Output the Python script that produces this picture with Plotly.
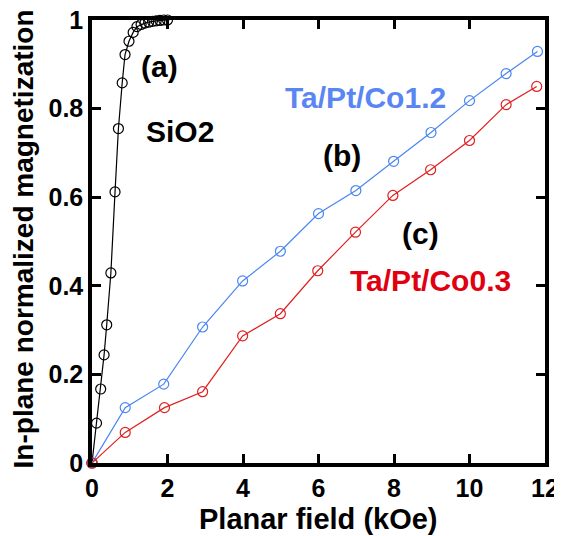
import plotly.graph_objects as go

sio2_x = [0, 0.12, 0.23, 0.32, 0.39, 0.50, 0.61, 0.70, 0.80, 0.875, 0.98, 1.09, 1.19,
          1.3, 1.4, 1.5, 1.6, 1.7, 1.8, 1.9, 2.0]
sio2_y = [0, 0.09, 0.167, 0.244, 0.312, 0.429, 0.612, 0.755, 0.858, 0.922, 0.952, 0.972, 0.985,
          0.99, 0.993, 0.995, 0.997, 0.998, 0.999, 1.0, 1.0]

co12_x = [0, 0.88, 1.9, 2.93, 3.99, 4.99, 6.0, 6.99, 7.99, 8.98, 10.0, 10.97, 11.8]
co12_y = [0, 0.125, 0.178, 0.307, 0.411, 0.478, 0.563, 0.615, 0.681, 0.746, 0.818, 0.879, 0.929]

co03_x = [0, 0.88, 1.92, 2.93, 3.99, 4.99, 5.98, 6.98, 7.97, 8.97, 10.0, 10.97, 11.78]
co03_y = [0, 0.069, 0.125, 0.161, 0.287, 0.337, 0.434, 0.521, 0.604, 0.662, 0.728, 0.809, 0.85]

x_ticks = [0, 2, 4, 6, 8, 10, 12]
y_ticks = [0, 0.2, 0.4, 0.6, 0.8, 1]
y_tick_labels = ["0", "0.2", "0.4", "0.6", "0.8", "1"]

FONT = "Liberation Sans, Arial, sans-serif"
BLUE = "#4a86f0"
RED = "#e02020"

fig = go.Figure()

def add_series(x, y, color):
    fig.add_trace(go.Scatter(
        x=x, y=y, mode="lines+markers",
        line=dict(color=color, width=1.2),
        marker=dict(symbol="circle-open", size=10, color=color, line=dict(width=1.2, color=color)),
        cliponaxis=False, showlegend=False))

add_series(sio2_x, sio2_y, "black")
add_series(co12_x, co12_y, BLUE)
add_series(co03_x, co03_y, RED)

def label(x, y, text, color, size=30):
    fig.add_annotation(x=x, y=y, text="<b>" + text + "</b>", showarrow=False,
                       font=dict(family=FONT, size=size, color=color),
                       xanchor="center", yanchor="middle")

label(1.80, 0.895, "(a)", "black")
label(2.33, 0.748, "SiO2", "black")
label(7.24, 0.826, "Ta/Pt/Co1.2", "#5a86f4")
label(6.63, 0.695, "(b)", "black")
label(8.70, 0.517, "(c)", "black")
label(8.97, 0.412, "Ta/Pt/Co0.3", "#e00010")

# axis titles
fig.add_annotation(xref="paper", yref="paper", x=0.499, y=-0.126,
                   text="<b>Planar field (kOe)</b>", showarrow=False,
                   font=dict(family=FONT, size=29, color="black"),
                   xanchor="center", yanchor="middle")
fig.add_annotation(xref="paper", yref="paper", x=-0.152, y=0.505,
                   text="<b>In-plane normalized magnetization</b>", showarrow=False,
                   textangle=-90,
                   font=dict(family=FONT, size=28, color="black"),
                   xanchor="center", yanchor="middle")

axis_common = dict(
    showline=True, linewidth=3.5, linecolor="black", mirror="allticks",
    ticks="inside", ticklen=9, tickwidth=3, tickcolor="black",
    showgrid=False, zeroline=False, automargin=False, ticklabeloverflow="allow",
    tickfont=dict(family=FONT, size=25, color="black"),
)

fig.update_xaxes(range=[0, 12], tickvals=x_ticks, ticktext=["<b>%d</b>" % v for v in x_ticks],
                 **axis_common)
fig.update_yaxes(range=[0, 1], tickvals=y_ticks, ticktext=["<b>%s</b>" % t for t in y_tick_labels],
                 **axis_common)

# page body has an 8px margin; the figure is offset by it inside the 562x536 window
fig.update_layout(
    width=554, height=528,
    margin=dict(l=84, r=17, t=12, b=73),
    plot_bgcolor="white", paper_bgcolor="white",
)

fig.write_html("out.html")
